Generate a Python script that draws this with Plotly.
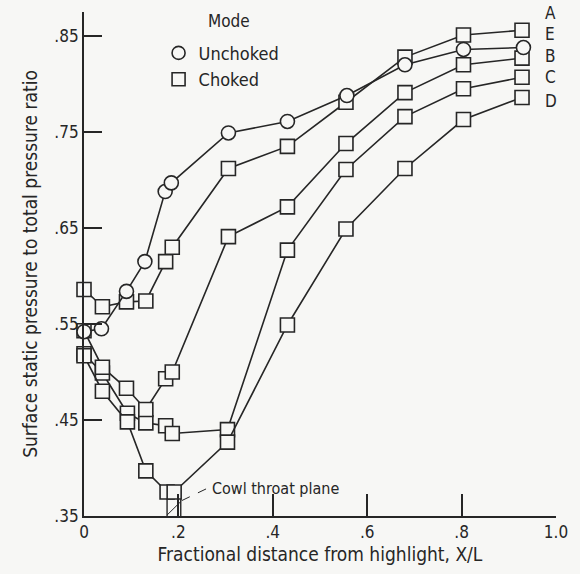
import plotly.graph_objects as go

# Fractional distance from highlight X/L and surface static-to-total pressure ratio
unchoked_x = [0.0, 0.037, 0.090, 0.129, 0.172, 0.185, 0.306, 0.431, 0.557, 0.680, 0.804, 0.931]
unchoked_a = [0.542, 0.545, 0.584, 0.615, 0.688, 0.697, 0.749, 0.761, 0.788, 0.820, 0.836, 0.838]

choked_x = [0.0, 0.039, 0.090, 0.131, 0.173, 0.187, 0.306, 0.431, 0.555, 0.680, 0.804, 0.928]
choked_e = [0.586, 0.568, 0.573, 0.574, 0.615, 0.630, 0.712, 0.735, 0.781, 0.828, 0.851, 0.856]
choked_b = [0.543, 0.505, 0.483, 0.461, 0.493, 0.500, 0.641, 0.672, 0.738, 0.791, 0.820, 0.827]

choked_cd_x = [0.0, 0.039, 0.092, 0.131, 0.173, 0.187, 0.304, 0.431, 0.555, 0.680, 0.804, 0.928]
choked_c = [0.519, 0.499, 0.457, 0.447, 0.444, 0.436, 0.440, 0.627, 0.711, 0.766, 0.795, 0.807]
choked_d_x = [0.0, 0.039, 0.092, 0.131, 0.176, 0.191, 0.304, 0.431, 0.555, 0.680, 0.804, 0.928]
choked_d = [0.517, 0.480, 0.448, 0.397, 0.375, 0.375, 0.427, 0.549, 0.649, 0.712, 0.763, 0.786]

series_labels = ["A", "E", "B", "C", "D"]
label_y = [0.874, 0.852, 0.829, 0.807, 0.782]

x_ticks = [0, 0.2, 0.4, 0.6, 0.8, 1.0]
x_ticktext = ["0", ".2", ".4", ".6", ".8", "1.0"]
y_ticks = [0.35, 0.45, 0.55, 0.65, 0.75, 0.85]
y_ticktext = [".35", ".45", ".55", ".65", ".75", ".85"]

INK = "#262626"
BG = "#f7f7f5"
FONT = "Liberation Sans Narrow, DejaVu Sans Condensed, Arial Narrow, sans-serif"

fig = go.Figure()


def add_curve(x, y, symbol, name=None, legend=False):
    fig.add_trace(go.Scatter(
        x=x, y=y, mode="lines+markers",
        line=dict(color=INK, width=1.6),
        marker=dict(symbol=symbol, size=14, color=BG,
                    line=dict(color=INK, width=1.6)),
        name=name, showlegend=legend, cliponaxis=False,
    ))


add_curve(choked_cd_x, choked_c, "square")
add_curve(choked_d_x, choked_d, "square")
add_curve(choked_x, choked_b, "square")
add_curve(choked_x, choked_e, "square")
add_curve(unchoked_x, unchoked_a, "circle")

# legend entries: marker only
for sym, nm in [("circle", "Unchoked"), ("square", "Choked")]:
    fig.add_trace(go.Scatter(
        x=[None], y=[None], mode="markers", name=nm, showlegend=True,
        marker=dict(symbol=sym, size=13, color=BG, line=dict(color=INK, width=1.6)),
    ))

# legend heading
fig.add_annotation(x=0.307, y=0.866, xref="x", yref="y", text="Mode",
                   showarrow=False, xanchor="center",
                   font=dict(family=FONT, size=17, color=INK))

# configuration letters at the right-hand ends
for lab, yv in zip(series_labels, label_y):
    fig.add_annotation(x=0.972, y=yv, xref="x", yref="y", text=lab,
                       showarrow=False, xanchor="left",
                       font=dict(family=FONT, size=17, color=INK))

# cowl throat plane marker
fig.add_shape(type="line", x0=0.176, x1=0.176, y0=0.35, y1=0.368,
              line=dict(color=INK, width=1.4))
fig.add_shape(type="line", x0=0.205, x1=0.205, y0=0.35, y1=0.368,
              line=dict(color=INK, width=1.4))
fig.add_shape(type="line", x0=0.176, x1=0.205, y0=0.351, y1=0.365,
              line=dict(color=INK, width=1.0))
fig.add_shape(type="line", x0=0.207, x1=0.262, y0=0.366, y1=0.379,
              line=dict(color=INK, width=1.0, dash="dash"))
fig.add_annotation(x=0.266, y=0.379, xref="x", yref="y", text="Cowl throat plane",
                   showarrow=False, xanchor="left",
                   font=dict(family=FONT, size=16, color=INK))

fig.update_xaxes(
    range=[0, 1.0], tickvals=x_ticks, ticktext=x_ticktext,
    ticks="inside", ticklen=22, tickwidth=1.8, tickcolor=INK,
    showline=True, linecolor=INK, linewidth=1.8, showgrid=False, zeroline=False,
    tickfont=dict(family=FONT, size=17, color=INK),
    title=dict(text="Fractional distance from highlight, X/L",
               font=dict(family=FONT, size=19, color=INK), standoff=6),
)
fig.update_yaxes(
    range=[0.35, 0.875], tickvals=y_ticks, ticktext=y_ticktext,
    ticks="inside", ticklen=18, tickwidth=1.8, tickcolor=INK,
    showline=True, linecolor=INK, linewidth=1.8, showgrid=False, zeroline=False,
    tickfont=dict(family=FONT, size=17, color=INK),
    title=dict(text="Surface static pressure to total pressure ratio",
               font=dict(family=FONT, size=19, color=INK), standoff=12),
)

fig.update_layout(
    width=580, height=574,
    margin=dict(l=84, r=14, t=12, b=55),
    paper_bgcolor=BG, plot_bgcolor=BG,
    legend=dict(
        x=0.158, y=0.955, xanchor="left", yanchor="top",
        bgcolor="rgba(0,0,0,0)", borderwidth=0,
        font=dict(family=FONT, size=18, color=INK),
        itemwidth=30, tracegroupgap=0,
    ),
)

fig.write_html("out.html")
